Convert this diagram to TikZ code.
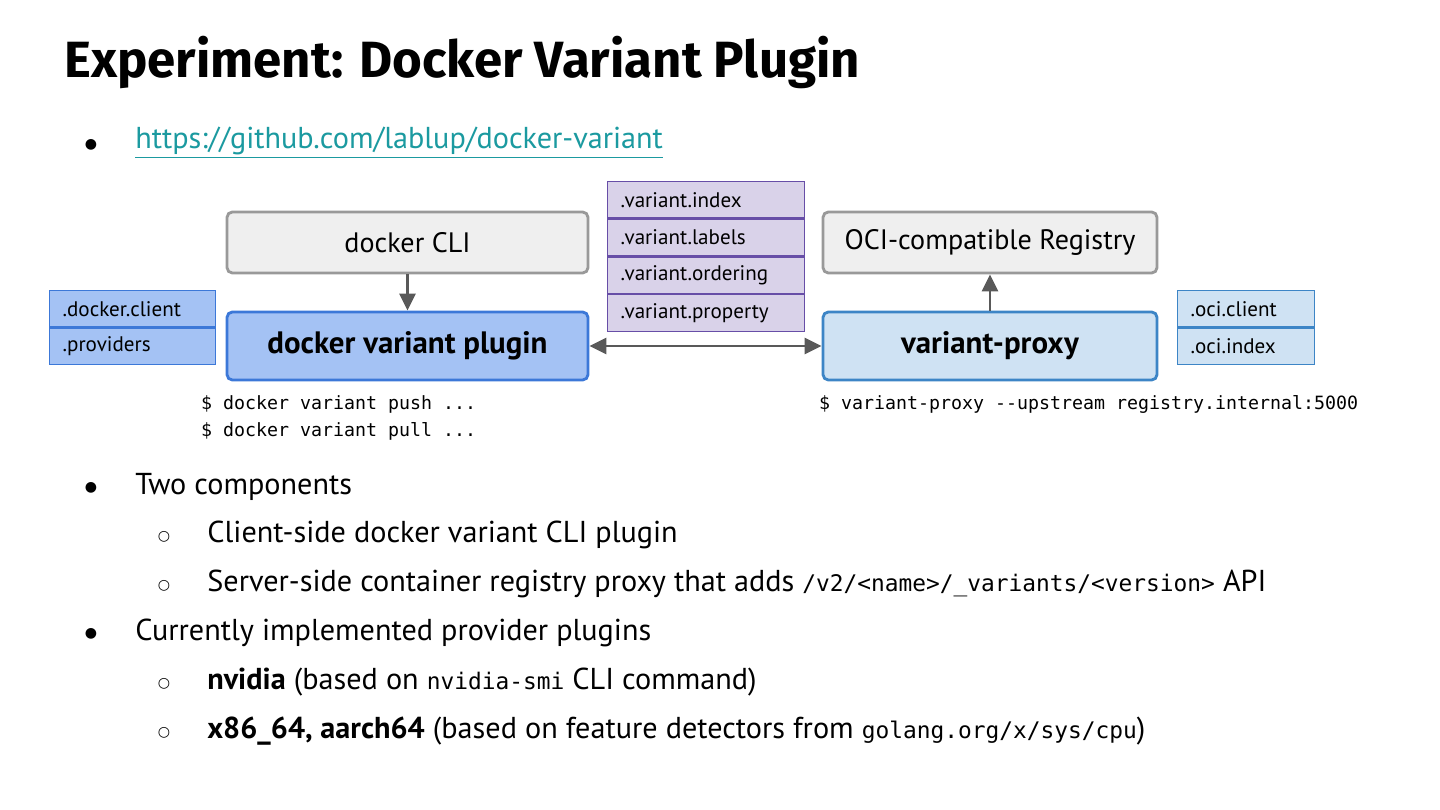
\documentclass[tikz,border=0pt]{standalone}
\usepackage{fontspec}
\setmainfont{PT Sans}
\setmonofont{DejaVu Sans Mono}
\newfontfamily\titlefont{Fira Sans}
\newfontfamily\symfont{DejaVu Sans}
\usepackage{tikz}
\usetikzlibrary{arrows.meta,positioning}

\definecolor{greyfill}{HTML}{EFEFEF}
\definecolor{greyline}{HTML}{999999}
\definecolor{bluefill}{HTML}{A4C2F4}
\definecolor{blueline}{HTML}{3C78D8}
\definecolor{lbluefill}{HTML}{CFE2F3}
\definecolor{lblueline}{HTML}{3D85C6}
\definecolor{purpfill}{HTML}{D9D2E9}
\definecolor{purpline}{HTML}{674EA7}
\definecolor{arrowgrey}{HTML}{595959}
\definecolor{linkteal}{HTML}{1B9AA0}

\begin{document}
\begin{tikzpicture}[
  x=0.02cm, y=-0.02cm,
  bigbox/.style={draw, rounded corners=3pt, line width=1.6pt, align=center, font=\fontsize{16}{19}\selectfont},
  greybox/.style={bigbox, draw=greyline, fill=greyfill, minimum height=1.22cm},
  mainbox/.style={bigbox, minimum height=1.36cm, font=\fontsize{17.6}{20}\selectfont\bfseries},
  tagbox/.style={draw, line width=0.7pt, anchor=north west, align=left, minimum height=0.73cm, inner ysep=0pt, font=\fontsize{12}{14}\selectfont},
  cmd/.style={anchor=west, font=\fontsize{10.4}{13}\ttfamily},
  txt/.style={anchor=west, font=\fontsize{17.2}{20}\selectfont, inner sep=0pt},
  dot/.style={anchor=center, font=\fontsize{8}{10}\symfont, inner sep=0pt},
  arr/.style={-{Triangle[length=3.4mm,width=3.2mm]}, draw=arrowgrey, line width=1.6pt}
]
\useasboundingbox[fill=white] (0,0) rectangle (1440,810);

% title and link
\node[anchor=west, inner sep=0pt, font=\fontsize{29}{33}\titlefont\bfseries] (title) at (64,63) {Experiment: Docker Variant Plugin};
\node[dot] (b1) at (91,145) {●};
\node[txt, text=linkteal] (link) at (135,143) {\underline{https://github.com/lablup/docker-variant}};

% client side
\node[greybox, minimum width=7.22cm] (cli) at (407.5,242.5) {docker CLI};
\node[mainbox, draw=blueline, fill=bluefill, minimum width=7.22cm] (plugin) at (407.5,346) {docker variant plugin};
\node[tagbox, draw=blueline, fill=bluefill, text width=2.8cm, inner xsep=0.26cm] (dclient) at (49,290) {.docker.client};
\node[tagbox, draw=blueline, fill=bluefill, text width=2.8cm, inner xsep=0.26cm, below=0pt of dclient] (prov) {.providers};
\node[cmd] (push) at (195,404) {\$ docker variant push ...};
\node[cmd] (pull) at (195,431) {\$ docker variant pull ...};

% shared metadata
\node[tagbox, draw=purpline, fill=purpfill, text width=3.42cm, inner xsep=0.26cm] (vidx) at (607,181) {.variant.index};
\node[tagbox, draw=purpline, fill=purpfill, text width=3.42cm, inner xsep=0.26cm, below=0pt of vidx] (vlab) {.variant.labels};
\node[tagbox, draw=purpline, fill=purpfill, text width=3.42cm, inner xsep=0.26cm, below=0pt of vlab] (vord) {.variant.ordering};
\node[tagbox, draw=purpline, fill=purpfill, text width=3.42cm, inner xsep=0.26cm, below=0pt of vord] (vprop) {.variant.property};

% server side
\node[greybox, minimum width=6.68cm] (reg) at (990,242.5) {OCI-compatible Registry};
\node[mainbox, draw=lblueline, fill=lbluefill, minimum width=6.68cm] (proxy) at (990,346) {variant-proxy};
\node[tagbox, draw=lblueline, fill=lbluefill, text width=2.22cm, inner xsep=0.26cm] (oclient) at (1177,290) {.oci.client};
\node[tagbox, draw=lblueline, fill=lbluefill, text width=2.22cm, inner xsep=0.26cm, below=0pt of oclient] (oidx) {.oci.index};
\node[cmd] (serve) at (813,404) {\$ variant-proxy --upstream registry.internal:5000};

\draw[arr] (cli) -- (plugin);
\draw[arr] (proxy) -- (reg);
\draw[arr, {Triangle[length=3.4mm,width=3.2mm]}-{Triangle[length=3.4mm,width=3.2mm]}] (plugin) -- (proxy);

% bullets
\node[dot] (b2) at (91,488) {●};
\node[txt] (comp) at (135,487) {Two components};
\node[dot] (s1) at (164,537) {○};
\node[txt] (clientside) at (207,535) {Client-side docker variant CLI plugin};
\node[dot] (s2) at (164,586) {○};
\node[txt] (serverside) at (207,584) {Server-side container registry proxy that adds {\fontsize{13}{16}\ttfamily /v2/<name>/\_variants/<version>} API};
\node[dot] (b3) at (91,634) {●};
\node[txt] (impl) at (135,633) {Currently implemented provider plugins};
\node[dot] (s3) at (164,684) {○};
\node[txt] (nv) at (207,682) {\textbf{nvidia} (based on {\fontsize{13}{16}\ttfamily nvidia-smi} CLI command)};
\node[dot] (s4) at (164,733) {○};
\node[txt] (arch) at (207,731) {\textbf{x86\_64, aarch64} (based on feature detectors from {\fontsize{13}{16}\ttfamily golang.org/x/sys/cpu})};
\end{tikzpicture}
\end{document}
